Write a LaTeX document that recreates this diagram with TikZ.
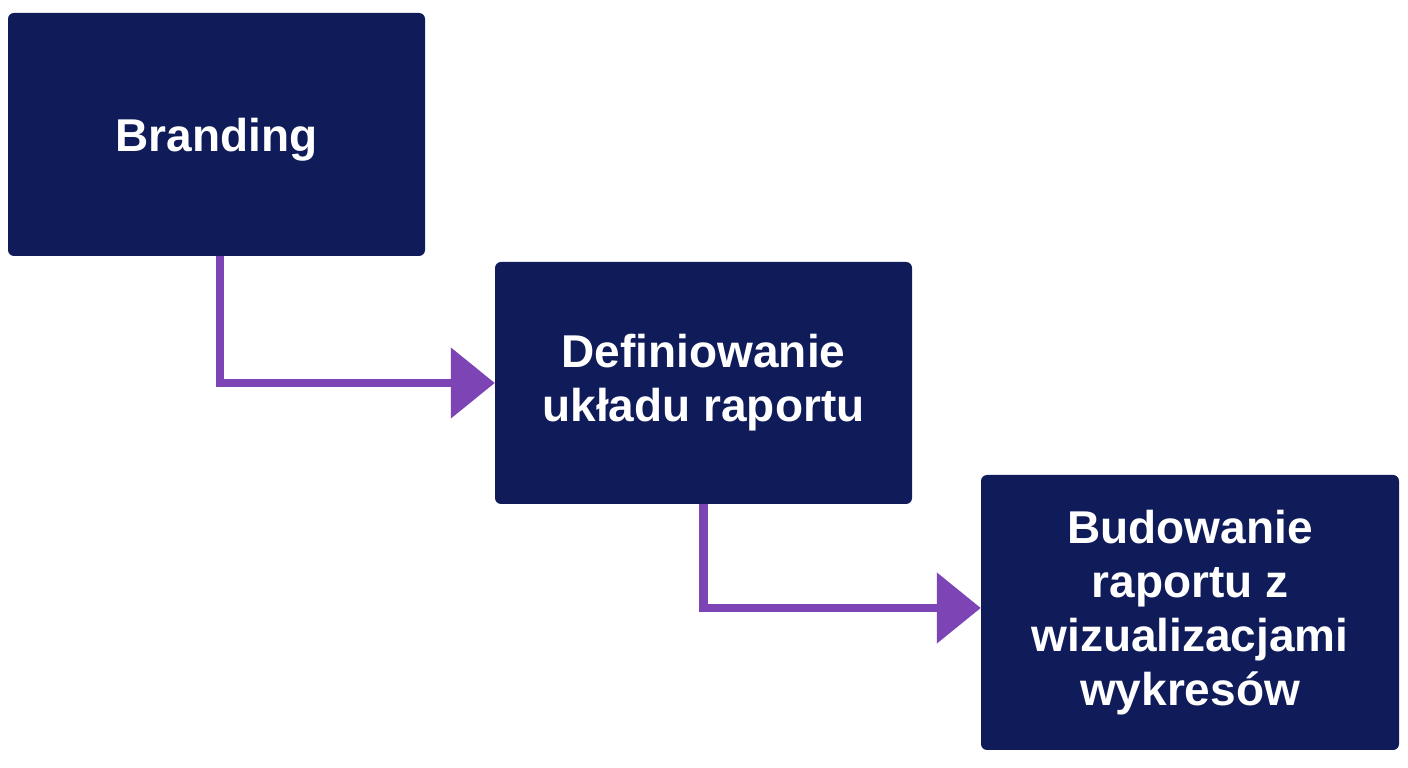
\documentclass[tikz,border=0pt]{standalone}
\usepackage{fontspec}
\setmainfont{Liberation Sans}
\usetikzlibrary{arrows.meta}
\definecolor{navy}{HTML}{101C59}
\definecolor{violet}{HTML}{7C44B5}
\tikzset{
  stepbox/.style={rectangle, rounded corners=6pt, fill=navy, text=white,
    inner sep=0pt, align=center, font=\bfseries\fontsize{46}{54}\selectfont},
  flow/.style={draw=violet, line width=8.5pt,
    -{Triangle[length=44pt,width=69pt]}}
}
\begin{document}
\begin{tikzpicture}[x=1pt,y=1pt]
\useasboundingbox (0,0) rectangle (1408,768);
\fill[white] (0,0) rectangle (1408,768);
\node[stepbox, minimum width=417pt, minimum height=243pt, text height=34pt, text depth=0pt] (b1) at (216.5,633.5) {Branding};
\node[stepbox, minimum width=417pt, minimum height=242pt] (b2) at (703.5,385) {Definiowanie\\układu raportu};
\node[stepbox, minimum width=418pt, minimum height=275pt] (b3) at (1190,155.5) {Budowanie\\raportu z\\wizualizacjami\\wykresów};
\draw[flow] ([xshift=3.5pt]b1.south) |- (b2.west);
\draw[flow] (b2.south) |- ([yshift=4.5pt]b3.west);
\end{tikzpicture}
\end{document}
